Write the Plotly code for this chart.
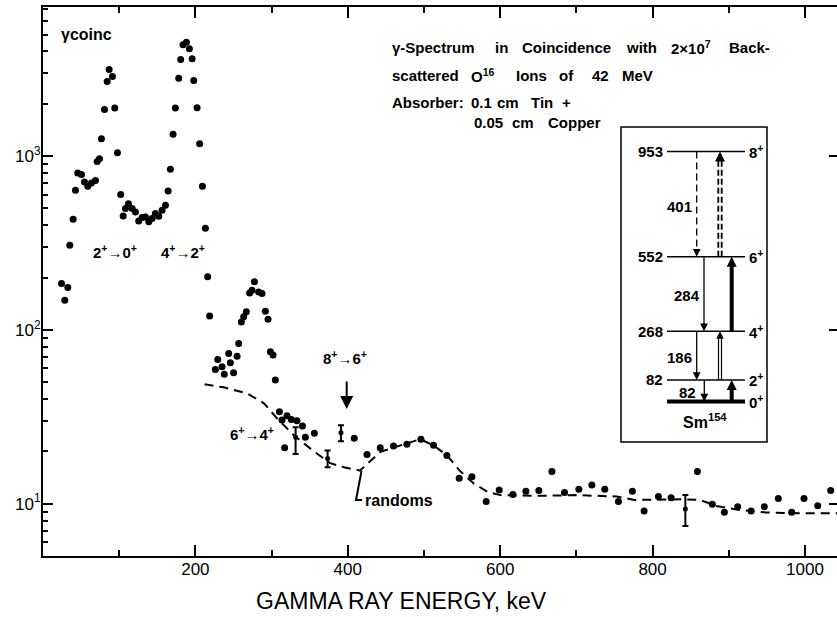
import math
import plotly.graph_objects as go

# ---------------- data ----------------
# coincidence gamma spectrum (keV, counts)
energy = [24.3, 28.6, 32.5, 35.2, 39.6, 42.6, 45.6, 50.5, 54.4, 58.8, 63.6, 68.9,
          71.1, 74.1, 76.7, 80.7, 84.2, 86.8, 91.1, 94.2, 97.7, 102.0, 105.2, 108.2,
          112.1, 117.0, 121.3, 125.6, 130.1, 134.4, 138.8, 143.2, 147.5, 151.9, 156.3,
          160.7, 164.2, 167.2, 170.7, 173.7, 178.1, 180.7, 183.8, 188.2, 192.1, 195.7,
          197.8, 202.2, 205.6, 209.2, 213.1, 216.1, 218.7,
          226.2, 229.3, 235.0, 237.9, 243.7, 245.9, 250.1, 254.7, 256.8, 260.3, 263.4,
          266.9, 271.2, 274.3, 277.4, 283.0, 287.4, 291.8, 295.3, 298.4, 301.9, 304.9,
          310.2, 313.7, 317.1, 320.2, 325.9, 333.3, 340.5, 344.3, 356.1,
          408.5, 425.2, 442.6, 460.0, 477.6, 496.0, 512.5, 530.0, 546.2, 562.9, 581.6,
          598.7, 616.7, 633.7, 650.7, 667.8, 684.4, 703.2, 720.3, 737.3, 755.2, 773.5,
          788.9, 807.6, 824.3, 858.8, 878.4, 894.2, 911.7, 929.2, 946.6, 965.0, 982.5,
          998.7, 1016.7, 1033.7]
counts = [185, 148, 175, 307, 433, 635, 798, 782, 709, 670, 700, 722,
          929, 966, 1259, 1854, 2687, 3147, 2870, 1888, 1045, 600, 452, 499,
          532, 499, 477, 423, 443, 446, 418, 437, 467, 450, 487,
          521, 630, 839, 1333, 1888, 2806, 3597, 4369, 4519, 4140, 3628,
          2722, 1897, 1178, 670, 384, 202, 120,
          59.2, 67.6, 61.3, 55.6, 73.2, 64.6, 56.6, 70.6, 83.5, 111, 119,
          127, 163, 169, 189, 165, 162, 128, 115, 74.7, 71.6, 51.4,
          33.8, 30.3, 21.0, 32.0, 30.5, 30.0, 28.0, 24.1, 25.4,
          23.8, 19.2, 21.0, 21.5, 22.0, 23.5, 21.7, 18.9, 14.0, 14.3, 10.3,
          12.0, 11.3, 11.8, 11.9, 15.3, 11.6, 12.1, 12.8, 12.1, 10.3, 11.8,
          9.08, 11.0, 10.8, 15.3, 9.92, 8.92, 9.61, 9.08, 9.61, 10.7, 8.92,
          10.7, 9.74, 11.9]

# points carrying statistical error bars
err_energy = [331.5, 373.5, 391.0, 843.0]
err_counts = [24.1, 18.2, 25.6, 9.33]
err_upper = [27.5, 20.2, 28.3, 11.2]
err_lower = [19.3, 16.2, 22.9, 7.45]

# random-coincidence background
rand_energy = [212, 237, 268, 290, 307, 329, 356, 377, 395, 416, 443, 465, 495, 512,
               530, 548, 565, 583, 600, 650, 700, 753, 776, 840, 862, 884, 914, 949,
               993, 1042]
rand_counts = [48.6, 46.7, 43.1, 37.8, 31.0, 24.8, 19.9, 17.1, 16.2, 15.5, 19.9, 21.3,
               23.5, 21.7, 19.0, 15.3, 13.1, 11.7, 11.2, 11.1, 11.2, 11.0, 10.5, 10.6,
               10.5, 9.7, 9.2, 8.9, 8.8, 8.8]

# Sm-154 ground band level scheme (keV)
levels = [0, 82, 268, 552, 953]
spins = ["0", "2", "4", "6", "8"]

x_ticks = [200, 400, 600, 800, 1000]
x_minor = [100, 300, 500, 700, 900]
y_ticks = [10, 100, 1000]
y_ticktext = ["10<sup>1</sup>", "10<sup>2</sup>", "10<sup>3</sup>"]
y_minor = [m * d for d in (1, 10, 100, 1000) for m in range(2, 10)]

# ---------------- geometry helpers ----------------
W, H = 837, 617
ML, MR, MT, MB = 43, 0, 7, 61
PW, PH = W - ML - MR, H - MT - MB


def px(x):
    return (x - ML) / PW


def py(y):
    return (H - MB - y) / PH


FONT = "Liberation Sans, Arial, sans-serif"

fig = go.Figure()

fig.add_trace(go.Scatter(
    x=energy, y=counts, mode="markers",
    marker=dict(color="black", size=7), showlegend=False, hoverinfo="skip"))

fig.add_trace(go.Scatter(
    x=err_energy, y=err_counts, mode="markers",
    marker=dict(color="black", size=5),
    error_y=dict(type="data", symmetric=False,
                 array=[u - c for u, c in zip(err_upper, err_counts)],
                 arrayminus=[c - l for c, l in zip(err_counts, err_lower)],
                 color="black", thickness=2, width=3),
    showlegend=False, hoverinfo="skip"))

fig.add_trace(go.Scatter(
    x=rand_energy, y=rand_counts, mode="lines",
    line=dict(color="black", width=2, dash="9px,6px"),
    showlegend=False, hoverinfo="skip"))

# right-hand decade ticks
fig.add_trace(go.Scatter(x=[None], y=[None], yaxis="y2", showlegend=False))

y_range = [math.log10(5), math.log10(7200)]

fig.update_layout(
    width=W, height=H,
    margin=dict(l=ML, r=MR, t=MT, b=MB),
    paper_bgcolor="white", plot_bgcolor="white",
    font=dict(family=FONT, color="black"),
    xaxis=dict(range=[0, 1042], showgrid=False, zeroline=False,
               showline=True, linecolor="black", linewidth=2, mirror="ticks",
               ticks="inside", ticklen=11, tickwidth=2, tickcolor="black",
               tickvals=x_ticks, tickfont=dict(size=17, family=FONT),
               ticklabelstandoff=-3,
               minor=dict(tickvals=x_minor, ticks="inside", ticklen=6,
                          tickwidth=2, tickcolor="black", showgrid=False)),
    yaxis=dict(type="log", range=y_range, showgrid=False, zeroline=False,
               showline=True, linecolor="black", linewidth=2,
               ticks="inside", ticklen=10, tickwidth=2, tickcolor="black",
               tickvals=y_ticks, ticktext=y_ticktext,
               tickfont=dict(size=17, family=FONT), ticklabelstandoff=-3,
               minor=dict(tickvals=y_minor, ticks="inside", ticklen=5,
                          tickwidth=2, tickcolor="black", showgrid=False)),
    yaxis2=dict(type="log", range=y_range, overlaying="y", side="right",
                showgrid=False, zeroline=False, showline=False,
                ticks="inside", ticklen=8, tickwidth=2, tickcolor="black",
                tickvals=y_ticks, showticklabels=False),
)

ann = []
shapes = []


def text(x, y, s, size=14, anchor="center", bold=True, family=FONT):
    ann.append(dict(x=px(x), y=py(y), xref="paper", yref="paper",
                    text=("<b>%s</b>" % s) if bold else s, showarrow=False,
                    xanchor=anchor, yanchor="middle",
                    font=dict(size=size, family=family, color="black")))


def words(y, items, size=15):
    for x, s in items:
        text(x, y, s, size=size, anchor="left")


# axis title
text(401, 601, "GAMMA RAY ENERGY, keV", size=23, bold=False)

# y label
text(59, 35, "γcoinc", size=16, anchor="left")

# transition labels
text(115, 251, "2<sup>+</sup>→0<sup>+</sup>", size=15)
text(183, 251, "4<sup>+</sup>→2<sup>+</sup>", size=15)
text(252, 433, "6<sup>+</sup>→4<sup>+</sup>", size=15)
text(345, 357, "8<sup>+</sup>→6<sup>+</sup>", size=15)
ann.append(dict(x=px(346.7), y=py(409), xref="paper", yref="paper", text="",
                showarrow=True, ax=0, ay=-29, arrowhead=2, arrowsize=1.3,
                arrowwidth=2, arrowcolor="black"))

# "randoms" label with leader
text(363, 500, "randoms", size=16, anchor="left")
shapes.append(dict(type="path", xref="paper", yref="paper",
                   path="M %f %f L %f %f L %f %f" % (px(361.5), py(471), px(356), py(500),
                                                     px(362), py(500)),
                   line=dict(color="black", width=2)))

# descriptive text block
words(47, [(390, "γ-Spectrum"), (493, "in"), (520, "Coincidence"), (624, "with"),
           (669, "2×10<sup>7</sup>"), (727, "Back-")])
words(75, [(390, "scattered"), (469, "O<sup>16</sup>"), (514, "Ions"), (557, "of"),
           (590, "42"), (620, "MeV")])
words(103, [(390, "Absorber:"), (469, "0.1"), (495, "cm"), (529, "Tin"), (560, "+")])
words(123, [(472, "0.05"), (510, "cm"), (546, "Copper")])

# ---------------- level scheme inset ----------------
BOX = (621, 127, 767, 442)
shapes.append(dict(type="rect", xref="paper", yref="paper",
                   x0=px(BOX[0]), x1=px(BOX[2]), y0=py(BOX[3]), y1=py(BOX[1]),
                   line=dict(color="black", width=1.5), fillcolor="white",
                   layer="above"))


def ly(e):
    return 401.5 - e * 0.2622


LX0, LX1 = 667, 745
for e, j in zip(levels, spins):
    shapes.append(dict(type="line", xref="paper", yref="paper",
                       x0=px(LX0), x1=px(LX1), y0=py(ly(e)), y1=py(ly(e)),
                       line=dict(color="black", width=4 if e == 0 else 1.5)))
    text(LX1 + 2, ly(e), j + "<sup>+</sup>", size=15, anchor="left")
    if e > 0:
        text(LX0 - 2, ly(e), str(e), size=15, anchor="right")

text(705, 421, "Sm<sup>154</sup>", size=16)


def vline(x, ya, yb, width=1.5, dash="solid"):
    shapes.append(dict(type="line", xref="paper", yref="paper",
                       x0=px(x), x1=px(x), y0=py(ya), y1=py(yb),
                       line=dict(color="black", width=width, dash=dash)))


def head(x, y, up, width=1.5, size=1.2):
    ann.append(dict(x=px(x), y=py(y), xref="paper", yref="paper", text="",
                    showarrow=True, ax=0, ay=(9 if up else -9), arrowhead=2,
                    arrowsize=size, arrowwidth=width, arrowcolor="black"))


# gamma transitions (down) with energies
down = [(953, 552, 696.7, "7px,4px"), (552, 268, 704, "solid"),
        (268, 82, 696.7, "solid"), (82, 0, 704.3, "solid")]
for hi, lo, x, d in down:
    vline(x, ly(hi), ly(lo) - 6, width=1.3, dash=d)
    head(x, ly(lo), up=False, width=1.3)
    text(x - 17, (ly(hi) + ly(lo)) / 2 + 2, str(hi - lo), size=15)

# Coulomb excitation (up)
vline(718.3, ly(552), ly(953) + 6, width=1.8, dash="6px,3px")
vline(721.7, ly(552), ly(953) + 6, width=1.8, dash="6px,3px")
head(720, ly(953), up=True, width=2.5, size=0.8)
vline(731.7, ly(268), ly(552) + 6, width=4)
head(731.7, ly(552), up=True, width=2.5, size=0.8)
vline(718.5, ly(82), ly(268) + 6, width=1.2)
vline(721.5, ly(82), ly(268) + 6, width=1.2)
head(720, ly(268), up=True, width=1.5, size=1.0)
vline(731.7, ly(0), ly(82) + 6, width=4)
head(731.7, ly(82), up=True, width=2.5, size=0.8)

fig.update_layout(annotations=ann, shapes=shapes)
fig.write_html("out.html")
